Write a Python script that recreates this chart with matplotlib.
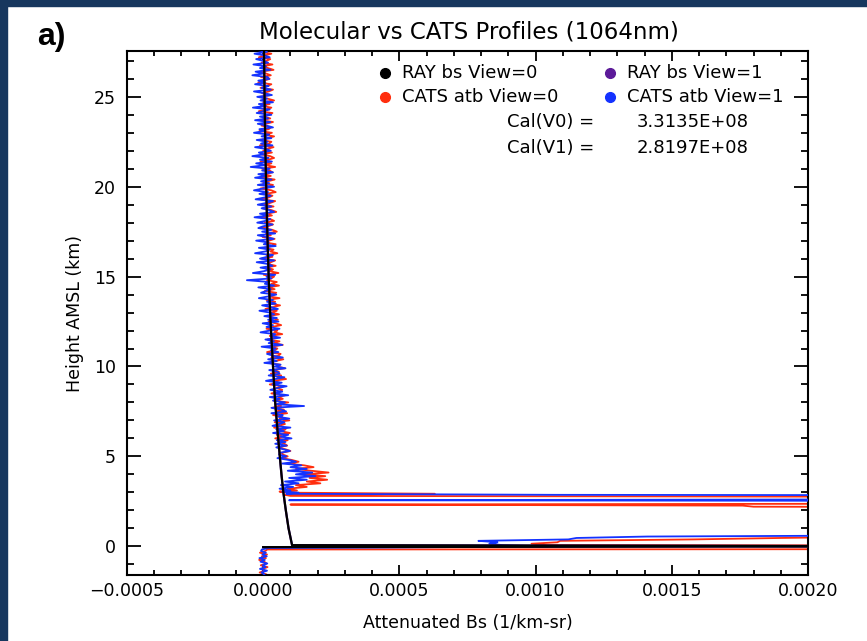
import numpy as np
import matplotlib.pyplot as plt
from matplotlib.patches import Rectangle
from matplotlib.ticker import MultipleLocator, FuncFormatter

# All backscatter values below are in units of 1e-6 (1/km-sr)

# Rayleigh (molecular) profile
ray_height = [27.6, 25.0, 22.0, 20.0, 17.5, 15.0, 12.5, 10.0, 8.0, 6.0, 5.0,
              4.0, 3.0, 2.0, 1.0, 0.06, 0.0, -0.05]
ray_value = [3, 5, 8, 11, 15, 20, 27, 36, 44, 55, 61,
             67, 74, 83, 93, 106, 2500, 0]

# CATS profiles, upper part: 0.1 km bins from 27.6 km down to 5.2 km
# (one row = 1 km)
cats_v0_upper = [
    22, -10, 30, 4, -16, 26, 12, -6, 34, -2,
    18, 38, -12, 10, 28, -8, 24, 2, -18, 30,
    14, -10, 36, 20, -4, 28, -14, 16, 40, 0,
    24, -8, 30, 12, -16, 34, 18, 2, 26, -12,
    36, 10, -6, 28, 20, -14, 32, 6, 40, 16,
    -8, 30, 22, -12, 38, 14, 0, 32, -6, 26,
    40, 18, -10, 30, 8, 44, -4, 24, 34, 2,
    28, -6, 42, 16, 0, 36, 22, -10, 30, 46,
    8, 34, 20, -8, 44, 26, 4, 38, -2, 30,
    48, 12, 32, -6, 26, 40, 6, 36, 18, -4,
    34, 50, 10, 28, -2, 42, 22, 8, 46, 30,
    4, 38, 26, 52, 12, 34, -6, 44, 28, 16,
    46, 10, 36, 24, 56, 2, 40, 30, 14, 50,
    30, 58, 18, 42, 6, 48, 34, 20, 60, 12,
    44, 22, 62, 36, 8, 50, 30, 58, 16, 40,
    54, 20, 46, 66, 32, 12, 52, 40, 70, 24,
    48, 16, 60, 38, 72, 26, 52, 42, 14, 64,
    56, 30, 74, 44, 20, 62, 50, 80, 34, 58,
    28, 66, 52, 84, 36, 60, 24, 76, 48, 70,
    62, 30, 80, 56, 72, 38, 92, 50, 66, 34,
    76, 48, 88, 36, 70, 60, 96, 42, 80, 58,
    40, 82, 66, 98, 50, 74, 44, 90, 62, 78,
    88, 52, 80, 100, 68,
]
cats_v1_upper = [
    -20, 14, -32, 6, 24, -26, 0, 18, -36, 10,
    -12, 26, -28, 2, -40, 16, 22, -18, 8, -30,
    20, -6, 28, -34, 4, 32, -22, 14, -10, 36,
    -16, 10, -38, 24, 0, -24, 30, -12, 18, -30,
    26, -20, 12, 36, -14, 4, -34, 22, -6, 30,
    -24, 16, -8, 34, -30, 10, 28, -16, 2, -40,
    20, -12, 32, -26, 8, -46, 24, -4, 36, -18,
    10, -30, 30, -8, 22, -20, 40, 0, -34, 18,
    -14, 28, 4, -28, 36, 12, -20, 30, -6, 22,
    40, -12, 18, -32, 26, 8, -22, 34, 0, -18,
    30, -4, 44, -20, 12, 38, -26, 20, 2, 46,
    -16, 24, 8, -30, 36, 14, -12, 40, -24, 18,
    34, -10, 26, 2, -38, 44, 12, 30, -60, 22,
    6, 40, -18, 28, 10, -8, 48, 20, -16, 36,
    14, 46, -4, 30, 54, -14, 24, 40, 4, 50,
    18, 56, -2, 36, 12, 60, 26, -10, 44, 30,
    62, 8, 40, 20, 70, -6, 46, 28, 56, 14,
    36, 72, 18, 50, 4, 64, 42, 82, 22, 54,
    60, 20, 78, 44, 10, 68, 34, 86, 52, 26,
    70, 40, 92, 24, 60, 36, 80, 48, 150, 30,
    66, 84, 30, 72, 56, 96, 40, 78, 60, 34,
    100, 48, 76, 36, 92, 64, 104, 50, 82, 44,
    86, 48, 72, 98, 62,
]

# lower part: aerosol layer, cloud, surface return, below ground
lower_height = [
    5.1, 5.0, 4.9, 4.8, 4.7, 4.6, 4.5, 4.4, 4.3, 4.2, 4.1,
    4.0, 3.9, 3.8, 3.7, 3.6, 3.5, 3.4, 3.3, 3.2, 3.1,
    3.04, 2.98, 2.92, 2.86, 2.80, 2.74, 2.68, 2.62,
    2.56, 2.50, 2.44, 2.38, 2.32, 2.26, 2.20, 2.14,
    1.4, 0.70,
    0.62, 0.54, 0.46, 0.38, 0.30, 0.22, 0.14, 0.06, -0.02, -0.10, -0.18,
    -0.26, -0.36, -0.46, -0.56, -0.66, -0.76, -0.86, -0.96,
    -1.06, -1.16, -1.26, -1.36, -1.46, -1.56, -1.66,
]
cats_v0_lower = [
    72, 90, 68, 105, 130, 92, 150, 185, 120, 175, 240,
    150, 228, 170, 235, 160, 210, 120, 160, 90, 124,
    60, 95, 630, 80, 100, 3000, 6000, 9000,
    9000, 7000, 5000, 3000, 100, 1760, 1800, 4000,
    9000, 6000,
    3200, 2300, 1900, 1580, 1090, 1080, 985, 1045, 9000, 12000, 15,
    8, -12, 14, -5, 10, -15, 4, 12,
    -9, 16, -3, 7, -13, 11, 2,
]
cats_v1_lower = [
    58, 85, 52, 95, 120, 70, 140, 100, 160, 90, 180,
    120, 192, 95, 160, 80, 130, 65, 110, 60, 100,
    70, 130, 85, 1070, 5000, 8000, 7000, 3000,
    95, 4000, 9000, 9000, 7000, 5000, 4000, 3000,
    9000, 6000,
    2600, 1410, 1150, 1120, 790, 860, 830, 880, 1045, 20, -5,
    -8, 10, -3, 13, -14, 6, -10, 15,
    -2, 9, -12, 14, -6, 3, 8,
]

cal_v0 = "3.3135E+08"
cal_v1 = "2.8197E+08"

upper_height = np.linspace(27.6, 5.2, len(cats_v0_upper))
height = np.concatenate([upper_height, lower_height])
v0 = np.concatenate([cats_v0_upper, cats_v0_lower]) * 1e-6
v1 = np.concatenate([cats_v1_upper, cats_v1_lower]) * 1e-6
ray = np.array(ray_value) * 1e-6

RED = "#ff2e0e"
BLUE = "#1432ff"
PURPLE = "#5c1a99"
NAVY = "#17375e"

plt.rcParams["font.family"] = "DejaVu Sans"

W, H = 867, 641
fig = plt.figure(figsize=(W / 100, H / 100), dpi=100)
fig.patch.set_facecolor("white")
fig.patches.append(Rectangle((0, 1 - 6 / H), 1, 6 / H, transform=fig.transFigure,
                             color=NAVY, zorder=0))
fig.patches.append(Rectangle((0, 0), 7 / W, 1, transform=fig.transFigure,
                             color=NAVY, zorder=0))

ax = fig.add_axes([127 / W, 1 - 575 / H, 681 / W, 524 / H])

ax.plot(v0, height, color=RED, lw=1.3, zorder=2)
ax.plot(v1, height, color=BLUE, lw=1.3, zorder=3)
ax.plot(ray, ray_height, color=PURPLE, lw=1.6, zorder=4)
ax.plot(ray, ray_height, color="black", lw=1.6, zorder=5)

ax.set_xlim(-0.0005, 0.0020)
ax.set_ylim(-1.6, 27.55)

ax.xaxis.set_major_locator(MultipleLocator(0.0005))
ax.xaxis.set_minor_locator(MultipleLocator(0.0001))
ax.xaxis.set_major_formatter(FuncFormatter(lambda v, p: f"{v:.4f}".replace("-", "\u2212")))
ax.yaxis.set_major_locator(MultipleLocator(5))
ax.yaxis.set_minor_locator(MultipleLocator(1))

ax.tick_params(which="both", direction="in", top=True, right=True,
               width=1.3, labelsize=12.5, colors="black")
ax.tick_params(axis="x", which="major", length=7.5, pad=5)
ax.tick_params(axis="x", which="minor", length=3.8)
ax.tick_params(axis="y", which="major", length=9.8, pad=8)
ax.tick_params(axis="y", which="minor", length=4.9)
for s in ax.spines.values():
    s.set_linewidth(1.5)

ax.set_xlabel("Attenuated Bs (1/km-sr)", fontsize=12.5, labelpad=10)
ax.set_ylabel("Height AMSL (km)", fontsize=12.5, labelpad=7)

# legend built by hand, IDL style
rows = [0.958, 0.912]
cols = [(0.379, 0.404), (0.709, 0.734)]
entries = [[("black", "RAY bs View=0"), (PURPLE, "RAY bs View=1")],
           [(RED, "CATS atb View=0"), (BLUE, "CATS atb View=1")]]
for r, row in zip(rows, entries):
    for (mx, tx), (c, label) in zip(cols, row):
        ax.plot([mx], [r], marker="o", ms=7, color=c, transform=ax.transAxes,
                clip_on=False, zorder=6)
        ax.text(tx, r, label, transform=ax.transAxes, fontsize=13,
                va="center", ha="left", zorder=6)
for r, name, val in [(0.8645, "Cal(V0) =", cal_v0), (0.815, "Cal(V1) =", cal_v1)]:
    ax.text(0.558, r, name, transform=ax.transAxes, fontsize=13, va="center", ha="left")
    ax.text(0.913, r, val, transform=ax.transAxes, fontsize=13, va="center", ha="right")

fig.text(469 / W, 1 - 32 / H, "Molecular vs CATS Profiles (1064nm)", fontsize=16.5,
         ha="center", va="center")
fig.text(37 / W, 1 - 37 / H, "a)", fontsize=23, fontweight="bold",
         family="Liberation Sans", ha="left", va="center")

fig.savefig("out.png", dpi=100)
